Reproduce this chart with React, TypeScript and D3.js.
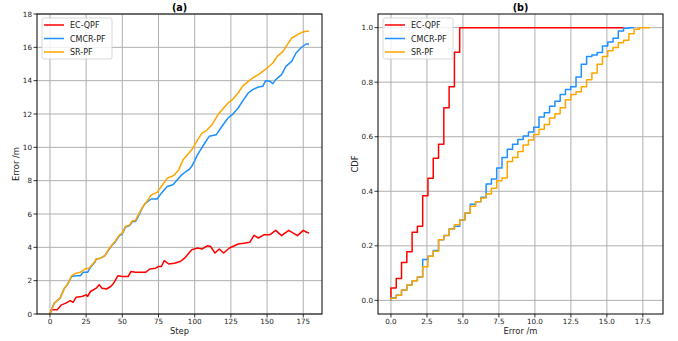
import React from 'react';
import * as d3 from 'd3';

// (a) error per step as [step, error]
const ecqpfErr: [number, number][] = [
  [0, 0], [1, 0.25], [5, 0.25], [8, 0.55], [11, 0.65], [14, 0.8], [16, 0.7], [18, 1.0], [22, 1.05],
  [25, 1.15], [26, 1.05], [28, 1.35], [32, 1.55], [34, 1.75], [36, 1.55], [39, 1.5], [42, 1.65],
  [44, 1.85], [47, 2.3], [50, 2.25], [54, 2.25], [56, 2.55], [59, 2.5], [63, 2.5], [66, 2.5],
  [69, 2.7], [73, 2.75], [75, 2.85], [77, 2.85], [79, 3.2], [82, 3.0], [86, 3.05], [90, 3.15],
  [93, 3.35], [98, 3.86], [102, 3.96], [105, 3.9], [109, 4.1], [111, 4.05], [114, 3.66], [117, 3.9],
  [120, 3.66], [124, 3.96], [130, 4.2], [134, 4.25], [138, 4.3], [141, 4.72], [144, 4.56], [148, 4.76],
  [152, 4.76], [156, 5.02], [160, 4.7], [165, 5.02], [171, 4.7], [175, 5.02], [177, 4.92], [179, 4.85],
];
const cmcrpfErr: [number, number][] = [
  [0, 0], [2, 0.45], [3, 0.65], [7, 0.95], [10, 1.55], [12, 1.75], [15, 2.25], [18, 2.3], [21, 2.3],
  [23, 2.5], [26, 2.5], [28, 2.8], [31, 3.1], [32, 3.3], [35, 3.35], [38, 3.5], [41, 3.9], [43, 4.15],
  [45, 4.3], [48, 4.7], [50, 4.8], [52, 5.2], [55, 5.3], [57, 5.55], [59, 5.55], [61, 5.85], [64, 6.4],
  [66, 6.65], [70, 6.9], [74, 6.9], [77, 7.25], [81, 7.65], [85, 7.75], [88, 8.05], [91, 8.35],
  [94, 8.55], [96, 8.66], [98, 8.86], [102, 9.56], [107, 10.26], [110, 10.66], [115, 10.76],
  [118, 11.16], [123, 11.76], [126, 11.96], [130, 12.36], [133, 12.76], [137, 13.26], [140, 13.46],
  [144, 13.62], [147, 13.66], [149, 14.0], [152, 13.96], [154, 13.82], [156, 14.06], [160, 14.36],
  [163, 14.86], [167, 15.16], [170, 15.66], [174, 16.02], [177, 16.2], [179, 16.2],
];
const srpfErr: [number, number][] = [
  [0, 0], [2, 0.45], [3, 0.65], [7, 0.95], [10, 1.55], [12, 1.75], [15, 2.3], [18, 2.45], [21, 2.5],
  [24, 2.7], [27, 2.75], [31, 3.15], [32, 3.3], [35, 3.35], [38, 3.5], [41, 3.95], [43, 4.15],
  [45, 4.35], [48, 4.75], [50, 4.85], [52, 5.25], [55, 5.35], [57, 5.6], [59, 5.6], [61, 5.95],
  [65, 6.55], [67, 6.75], [70, 7.15], [74, 7.3], [77, 7.65], [81, 8.15], [84, 8.25], [86, 8.35],
  [89, 8.66], [92, 9.26], [98, 9.86], [102, 10.45], [105, 10.85], [108, 11.0], [112, 11.36],
  [116, 11.95], [120, 12.36], [123, 12.66], [126, 12.86], [130, 13.26], [133, 13.66], [137, 13.96],
  [140, 14.16], [144, 14.36], [147, 14.56], [150, 14.76], [154, 15.06], [157, 15.46], [161, 15.76],
  [164, 16.16], [167, 16.56], [171, 16.76], [174, 16.9], [177, 16.96], [179, 16.97],
];

// (b) cumulative share per error bin (bin width in m)
const binWidth = 18 / 49;
const ecqpfCdf = [
  0.045, 0.08, 0.139, 0.178, 0.25, 0.272, 0.384, 0.448, 0.521, 0.572, 0.706, 0.783, 0.91,
  1, 1, 1, 1, 1, 1, 1, 1, 1, 1, 1, 1, 1, 1, 1, 1, 1, 1, 1, 1, 1, 1, 1, 1, 1, 1, 1, 1, 1, 1, 1,
];
const cmcrpfCdf = [
  0.01, 0.019, 0.038, 0.056, 0.072, 0.086, 0.15, 0.162, 0.183, 0.222, 0.238, 0.262, 0.272, 0.295,
  0.32, 0.352, 0.362, 0.378, 0.427, 0.445, 0.485, 0.524, 0.554, 0.572, 0.59, 0.603, 0.617, 0.635,
  0.672, 0.688, 0.712, 0.73, 0.755, 0.773, 0.783, 0.819, 0.866, 0.894, 0.9, 0.909, 0.933, 0.947,
  0.961, 0.988, 0.998, 1.0,
];
const srpfCdf = [
  0.008, 0.019, 0.038, 0.056, 0.072, 0.086, 0.123, 0.162, 0.18, 0.222, 0.238, 0.262, 0.277, 0.295,
  0.32, 0.345, 0.362, 0.375, 0.39, 0.411, 0.439, 0.449, 0.509, 0.524, 0.546, 0.57, 0.588, 0.608,
  0.627, 0.645, 0.669, 0.684, 0.706, 0.736, 0.755, 0.765, 0.783, 0.809, 0.834, 0.866, 0.894, 0.915,
  0.927, 0.945, 0.954, 0.978, 0.994, 1.0, 1.0,
];

const seriesNames = ['EC-QPF', 'CMCR-PF', 'SR-PF'];
const colors = ['#ff0000', '#1e90ff', '#ffa500'];

const stepTicks = [0, 25, 50, 75, 100, 125, 150, 175];
const errTicks = [0, 2, 4, 6, 8, 10, 12, 14, 16, 18];
const cdfXTicks = [0, 2.5, 5, 7.5, 10, 12.5, 15, 17.5];
const cdfYTicks = [0, 0.2, 0.4, 0.6, 0.8, 1.0];

const W = 678;
const H = 341;
const FONT = 'DejaVu Sans, sans-serif';
const GRID = '#b0b0b0';

function toSteps(cdf: number[]): [number, number][] {
  const pts: [number, number][] = [[0, 0]];
  cdf.forEach((c, k) => pts.push([k * binWidth, c]));
  pts.push([cdf.length * binWidth, cdf[cdf.length - 1]]);
  return pts;
}

type PanelProps = {
  left: number;
  width: number;
  title: string;
  xLabel: string;
  yLabel: string;
  yLabelX: number;
  x: d3.ScaleLinear<number, number>;
  y: d3.ScaleLinear<number, number>;
  xTicks: number[];
  yTicks: number[];
  xFmt: (v: number) => string;
  yFmt: (v: number) => string;
  lines: [number, number][][];
  curve: d3.CurveFactory;
};

function Panel(p: PanelProps) {
  const [y0, y1] = p.y.range();
  const top = y1;
  const bottom = y0;
  const line = d3
    .line<[number, number]>()
    .x(d => p.x(d[0]))
    .y(d => p.y(d[1]))
    .curve(p.curve);
  const right = p.left + p.width;
  const cx = p.left + p.width / 2;
  return (
    <g>
      {p.xTicks.map(t => (
        <line key={'gx' + t} x1={p.x(t)} x2={p.x(t)} y1={top} y2={bottom} stroke={GRID} strokeWidth={1} />
      ))}
      {p.yTicks.map(t => (
        <line key={'gy' + t} x1={p.left} x2={right} y1={p.y(t)} y2={p.y(t)} stroke={GRID} strokeWidth={1} />
      ))}
      {p.lines.map((d, i) => (
        <path key={'l' + i} d={line(d) || ''} fill="none" stroke={colors[i]} strokeWidth={1.5} strokeLinejoin="round" />
      ))}
      <rect x={p.left} y={top} width={p.width} height={bottom - top} fill="none" stroke="#000" strokeWidth={1} />
      {p.xTicks.map(t => (
        <g key={'tx' + t}>
          <line x1={p.x(t)} x2={p.x(t)} y1={bottom} y2={bottom + 3.5} stroke="#000" strokeWidth={0.8} />
          <text x={p.x(t)} y={bottom + 10} textAnchor="middle" fontSize={7.2} fontFamily={FONT} fill="#222">
            {p.xFmt(t)}
          </text>
        </g>
      ))}
      {p.yTicks.map(t => (
        <g key={'ty' + t}>
          <line x1={p.left - 3.5} x2={p.left} y1={p.y(t)} y2={p.y(t)} stroke="#000" strokeWidth={0.8} />
          <text x={p.left - 5} y={p.y(t) + 2.6} textAnchor="end" fontSize={7.2} fontFamily={FONT} fill="#222">
            {p.yFmt(t)}
          </text>
        </g>
      ))}
      <text x={cx} y={11} textAnchor="middle" fontSize={9.6} fontWeight="bold" fontFamily={FONT}>
        {p.title}
      </text>
      <text x={cx} y={334} textAnchor="middle" fontSize={8.4} fontFamily={FONT} fill="#222">
        {p.xLabel}
      </text>
      <text
        transform={`translate(${p.yLabelX},${(top + bottom) / 2}) rotate(-90)`}
        textAnchor="middle"
        fontSize={8.4}
        fontFamily={FONT}
        fill="#222"
      >
        {p.yLabel}
      </text>
      <g transform={`translate(${p.left + 5},${top + 4})`}>
        <rect x={0} y={0} width={70} height={41} rx={2} fill="#fff" fillOpacity={0.8} stroke="#d0d0d0" strokeWidth={0.8} />
        {seriesNames.map((n, i) => (
          <g key={n} transform={`translate(0,${7 + i * 13.5})`}>
            <line x1={2} x2={22} y1={0} y2={0} stroke={colors[i]} strokeWidth={1.5} />
            <text x={28} y={3} fontSize={8} fontFamily={FONT} fill="#222">
              {n}
            </text>
          </g>
        ))}
      </g>
    </g>
  );
}

export default function App() {
  const top = 14;
  const bottom = 314;
  const stepX = d3.scaleLinear().domain([-8.95, 187.95]).range([37, 322]);
  const errY = d3.scaleLinear().domain([0, 18]).range([bottom, top]);
  const cdfX = d3.scaleLinear().domain([-0.9, 18.9]).range([378, 663]);
  const cdfY = d3.scaleLinear().domain([-0.05, 1.05]).range([bottom, top]);
  return (
    <svg width={W} height={H} style={{ position: 'absolute', left: 0, top: 0, background: '#fff' }}>
      <Panel
        left={37}
        width={285}
        title="(a)"
        xLabel="Step"
        yLabel="Error /m"
        yLabelX={19}
        x={stepX}
        y={errY}
        xTicks={stepTicks}
        yTicks={errTicks}
        xFmt={d3.format('d')}
        yFmt={d3.format('d')}
        lines={[ecqpfErr, cmcrpfErr, srpfErr]}
        curve={d3.curveLinear}
      />
      <Panel
        left={378}
        width={285}
        title="(b)"
        xLabel="Error /m"
        yLabel="CDF"
        yLabelX={358}
        x={cdfX}
        y={cdfY}
        xTicks={cdfXTicks}
        yTicks={cdfYTicks}
        xFmt={d3.format('.1f')}
        yFmt={d3.format('.1f')}
        lines={[toSteps(ecqpfCdf), toSteps(cmcrpfCdf), toSteps(srpfCdf)]}
        curve={d3.curveStepAfter}
      />
    </svg>
  );
}
